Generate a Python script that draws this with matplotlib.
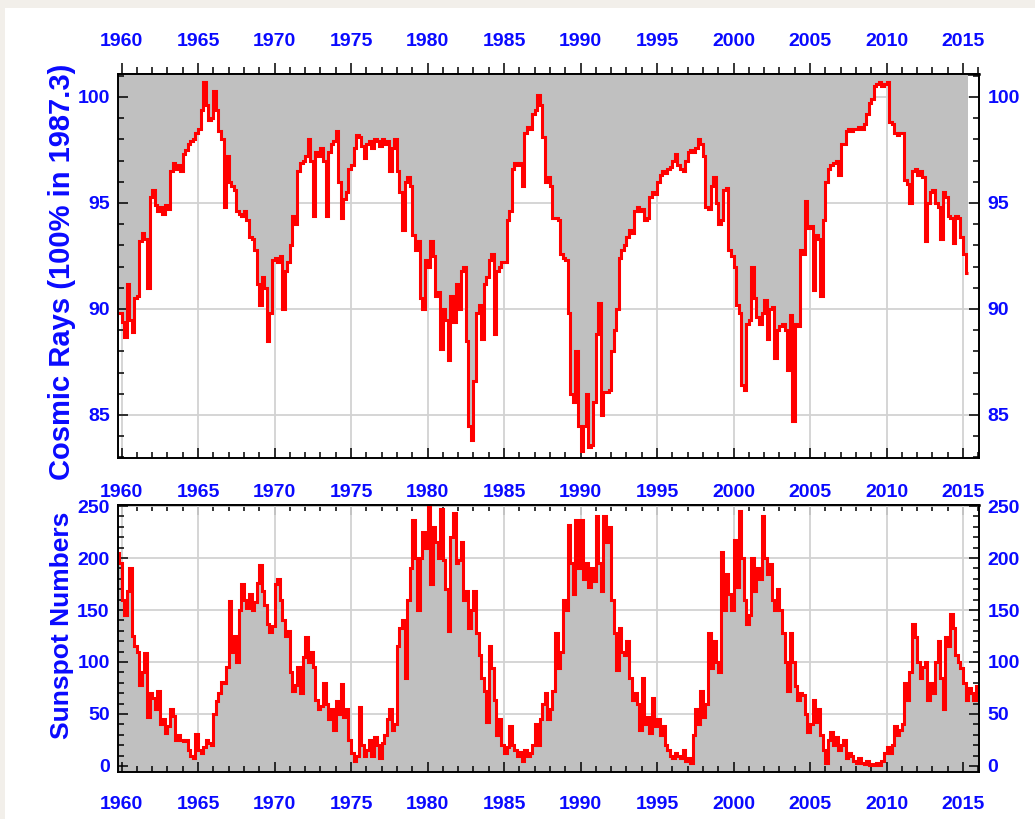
import numpy as np
import matplotlib
matplotlib.use("Agg")
import matplotlib.pyplot as plt
from matplotlib.ticker import MultipleLocator
from matplotlib.patches import Rectangle

# Bi-monthly series (six steps per year), first step starts at START
STEP = 1 / 6
START = 1960 - 2 * STEP

# Cosmic ray intensity, % of the 1987.3 level
cosmic_rays = np.array([
    89.8, 89.8,
    89.4, 88.7, 91.2, 89.5, 88.9, 90.5,      # 1960
    90.6, 93.2, 93.6, 93.3, 91.0, 95.3,      # 1961
    95.6, 94.9, 94.6, 94.8, 94.5, 94.9,      # 1962
    94.7, 96.5, 96.9, 96.6, 96.8, 96.5,      # 1963
    97.3, 97.5, 97.8, 97.9, 98.0, 98.3,      # 1964
    98.5, 99.4, 100.7, 99.6, 98.9, 99.0,     # 1965
    100.3, 99.4, 98.4, 98.0, 94.8, 97.2,     # 1966
    96.0, 95.8, 95.6, 94.6, 94.5, 94.4,      # 1967
    94.6, 94.2, 93.4, 93.3, 92.8, 91.2,      # 1968
    90.2, 91.5, 91.0, 88.5, 89.8, 92.3,      # 1969
    92.4, 92.2, 92.5, 90.0, 91.8, 92.2,      # 1970
    93.0, 94.4, 94.0, 96.5, 96.9, 97.0,      # 1971
    97.2, 98.0, 97.0, 94.4, 97.4, 97.2,      # 1972
    97.6, 97.0, 94.4, 97.4, 97.8, 97.9,      # 1973
    98.4, 96.0, 94.3, 95.2, 95.5, 96.6,      # 1974
    96.8, 97.6, 98.2, 98.1, 97.7, 97.1,      # 1975
    97.8, 97.9, 97.6, 98.0, 97.9, 97.7,      # 1976
    98.0, 97.8, 97.9, 96.5, 97.6, 98.0,      # 1977
    96.5, 95.5, 93.7, 96.0, 96.2, 95.8,      # 1978
    93.5, 92.8, 93.2, 90.5, 90.0, 92.3,      # 1979
    92.0, 93.2, 92.5, 90.6, 90.8, 88.1,      # 1980
    90.0, 89.5, 87.6, 90.6, 89.4, 91.2,      # 1981
    90.0, 91.8, 92.0, 88.5, 84.5, 83.8,      # 1982
    86.6, 89.8, 90.2, 88.6, 91.2, 91.5,      # 1983
    92.3, 92.6, 88.8, 91.8, 92.0, 92.2,      # 1984
    92.2, 94.2, 94.6, 96.6, 96.9, 96.8,      # 1985
    96.9, 95.8, 98.3, 98.6, 98.5, 99.2,      # 1986
    99.4, 100.1, 99.6, 98.1, 96.0, 96.2,     # 1987
    95.8, 94.3, 94.3, 94.2, 92.6, 92.4,      # 1988
    92.3, 89.8, 86.0, 85.6, 88.0, 84.5,      # 1989
    83.3, 84.5, 86.0, 83.5, 83.6, 85.6,      # 1990
    88.8, 90.3, 85.0, 86.1, 86.1, 86.2,      # 1991
    88.0, 89.0, 90.0, 92.4, 92.8, 93.0,      # 1992
    93.4, 93.7, 93.6, 94.6, 94.8, 94.6,      # 1993
    94.7, 94.2, 94.3, 95.3, 95.5, 95.4,      # 1994
    96.0, 96.3, 96.5, 96.4, 96.6, 96.7,      # 1995
    97.0, 97.3, 96.8, 96.6, 96.5, 97.0,      # 1996
    97.4, 97.5, 97.4, 97.6, 98.0, 97.8,      # 1997
    97.2, 94.8, 94.7, 95.8, 96.2, 95.0,      # 1998
    94.0, 94.2, 95.6, 95.7, 92.8, 92.5,      # 1999
    92.0, 90.2, 89.8, 86.4, 86.2, 89.3,      # 2000
    89.5, 92.0, 90.5, 89.6, 89.3, 89.8,      # 2001
    90.4, 88.6, 90.0, 90.1, 87.7, 89.0,      # 2002
    89.2, 89.3, 89.0, 87.1, 89.7, 84.7,      # 2003
    89.3, 89.2, 92.8, 92.6, 95.1, 93.8,      # 2004
    93.9, 90.9, 93.5, 93.3, 90.6, 94.2,      # 2005
    96.0, 96.6, 96.8, 96.9, 97.0, 96.3,      # 2006
    97.8, 97.8, 98.4, 98.5, 98.4, 98.5,      # 2007
    98.5, 98.6, 98.5, 98.7, 99.2, 99.7,      # 2008
    99.9, 100.5, 100.6, 100.7, 100.5, 100.6, # 2009
    100.7, 98.8, 98.7, 98.3, 98.2, 98.3,     # 2010
    98.3, 96.1, 95.9, 95.0, 96.5, 96.6,      # 2011
    96.3, 96.5, 96.2, 93.2, 95.0, 95.5,      # 2012
    95.6, 95.0, 94.8, 93.3, 95.5, 95.3,      # 2013
    94.4, 94.3, 93.1, 94.4, 94.3, 93.4,      # 2014
    92.6, 91.7,                              # 2015
])

# Sunspot numbers
sunspots = np.array([
    205, 195,
    160, 145, 168, 190, 125, 115,    # 1960
    110, 78, 90, 109, 47, 70,        # 1961
    65, 55, 72, 40, 45, 32,          # 1962
    38, 55, 48, 25, 30, 25,          # 1963
    24, 25, 15, 10, 8, 31,           # 1964
    15, 12, 18, 25, 22, 20,          # 1965
    50, 62, 70, 81, 80, 95,          # 1966
    159, 110, 125, 100, 150, 175,    # 1967
    160, 152, 165, 150, 158, 176,    # 1968
    193, 168, 155, 137, 129, 135,    # 1969
    175, 180, 160, 140, 125, 130,    # 1970
    90, 72, 78, 95, 70, 105,         # 1971
    124, 100, 110, 95, 63, 55,       # 1972
    58, 80, 60, 45, 55, 35,          # 1973
    62, 50, 79, 47, 55, 25,          # 1974
    12, 5, 10, 57, 20, 10,           # 1975
    15, 25, 10, 28, 20, 8,           # 1976
    22, 30, 45, 55, 35, 40,          # 1977
    115, 133, 140, 85, 160, 190,     # 1978
    237, 200, 150, 200, 225, 210,    # 1979
    250, 175, 230, 215, 200, 247,    # 1980
    198, 170, 130, 220, 243, 195,    # 1981
    198, 215, 160, 168, 133, 150,    # 1982
    168, 128, 107, 85, 72, 42,       # 1983
    115, 94, 63, 30, 45, 20,         # 1984
    12, 18, 38, 20, 15, 10,          # 1985
    13, 5, 15, 10, 12, 20,           # 1986
    40, 20, 45, 60, 70, 45,          # 1987
    55, 72, 128, 94, 110, 160,       # 1988
    150, 232, 195, 165, 237, 190,    # 1989
    237, 180, 195, 172, 190, 178,    # 1990
    240, 195, 168, 240, 215, 230,    # 1991
    160, 128, 92, 133, 110, 107,     # 1992
    120, 85, 63, 70, 60, 35,         # 1993
    85, 40, 47, 32, 65, 38,          # 1994
    45, 30, 38, 20, 15, 10,          # 1995
    8, 12, 10, 8, 15, 5,             # 1996
    8, 3, 30, 55, 40, 72,            # 1997
    47, 60, 128, 94, 120, 100,       # 1998
    90, 206, 150, 185, 165, 150,     # 1999
    217, 172, 245, 200, 160, 137,    # 2000
    145, 200, 168, 190, 180, 240,    # 2001
    200, 185, 194, 160, 150, 170,    # 2002
    150, 128, 100, 72, 128, 100,     # 2003
    77, 63, 70, 68, 50, 33,          # 2004
    40, 63, 42, 55, 30, 15,          # 2005
    3, 25, 33, 20, 28, 15,           # 2006
    20, 25, 8, 12, 10, 5,            # 2007
    3, 8, 3, 2, 5, 1,                # 2008
    2, 1, 3, 0.5, 5, 12,             # 2009
    18, 12, 20, 38, 30, 35,          # 2010
    40, 80, 63, 90, 137, 124,        # 2011
    100, 85, 95, 100, 63, 80,        # 2012
    70, 100, 120, 85, 55, 124,       # 2013
    115, 146, 133, 107, 100, 94,     # 2014
    80, 63, 75, 70, 63, 77,          # 2015
])

year_ticks = np.arange(1960, 2016, 5)
cr_ticks = [85, 90, 95, 100]
ss_ticks = [0, 50, 100, 150, 200, 250]

XLIM = (1959.77, 2016.05)
CR_LIM = (82.97, 101.08)
SS_LIM = (-5.8, 251.0)

BLUE = "#0a0aff"
RED = "#ff0000"
FILL = "#c0c0c0"
GRID = "#d2d2d2"

plt.rcParams["font.family"] = ["Liberation Sans Narrow", "Liberation Sans", "DejaVu Sans"]
plt.rcParams["font.weight"] = "bold"
plt.rcParams["axes.linewidth"] = 1.4

fig = plt.figure(figsize=(10.35, 8.19), dpi=100, facecolor="#f2efea")
fig.patches.append(Rectangle((5 / 1035, 0), 1, 1 - 8 / 819, transform=fig.transFigure,
                             facecolor="white", edgecolor="none", zorder=-1))

ax1 = fig.add_axes([0.114, 0.4408, 0.832, 0.4688])
ax2 = fig.add_axes([0.114, 0.0574, 0.832, 0.326])


def style_axes(ax, ylim, yticks, yminor):
    ax.set_xlim(*XLIM)
    ax.set_ylim(*ylim)
    for yr in year_ticks:
        ax.axvline(yr, color=GRID, lw=1.3, zorder=0.5)
    for yv in yticks:
        ax.axhline(yv, color=GRID, lw=1.3, zorder=0.5)
    ax.xaxis.set_major_locator(MultipleLocator(5))
    ax.xaxis.set_minor_locator(MultipleLocator(1))
    ax.set_yticks(yticks)
    ax.yaxis.set_minor_locator(MultipleLocator(yminor))
    ax.tick_params(axis="y", which="both", direction="in", left=True, right=True,
                   labelleft=True, labelright=True, labelcolor=BLUE, labelsize=14,
                   width=1.1, pad=6)
    ax.tick_params(axis="y", which="major", length=7)
    ax.tick_params(axis="y", which="minor", length=4.5)
    ax.tick_params(axis="x", which="both", direction="in", bottom=True, top=False,
                   labelbottom=False, width=1.1)
    ax.tick_params(axis="x", which="major", length=7)
    ax.tick_params(axis="x", which="minor", length=4.5)


def add_top_labels(ax, direction, pad):
    sec = ax.secondary_xaxis("top")
    sec.set_xticks(year_ticks)
    sec.xaxis.set_minor_locator(MultipleLocator(1))
    sec.tick_params(axis="x", which="both", direction=direction, labelcolor=BLUE,
                    labelsize=14, width=1.1, pad=pad)
    sec.tick_params(axis="x", which="major", length=8 if direction == "out" else 7)
    sec.tick_params(axis="x", which="minor", length=5 if direction == "out" else 4.5)
    sec.spines["top"].set_linewidth(1.8)
    return sec


# Cosmic rays: grey above the curve
style_axes(ax1, CR_LIM, cr_ticks, 1)
edges_cr = START + STEP * np.arange(len(cosmic_rays) + 1)
ax1.stairs(cosmic_rays, edges_cr, baseline=CR_LIM[1], fill=True, color=FILL, lw=0, zorder=1)
ax1.stairs(cosmic_rays, edges_cr, baseline=None, color=RED, lw=2.2, zorder=2)
add_top_labels(ax1, "out", 9)

# Sunspot numbers: grey below the curve
style_axes(ax2, SS_LIM, ss_ticks, 10)
edges_ss = START + STEP * np.arange(len(sunspots) + 1)
ax2.stairs(sunspots, edges_ss, baseline=SS_LIM[0], fill=True, color=FILL, lw=0, zorder=1)
ax2.stairs(sunspots, edges_ss, baseline=None, color=RED, lw=2.2, zorder=2)
ax2.tick_params(axis="x", which="both", labelbottom=True, labelcolor=BLUE,
                labelsize=14, pad=17)
add_top_labels(ax2, "in", 3)

label_font = ["Liberation Sans", "DejaVu Sans"]
fig.text(0.060, 0.668, "Cosmic Rays (100% in 1987.3)", rotation=90, ha="center",
         va="center", color=BLUE, fontsize=21, fontweight="bold", family=label_font)
fig.text(0.060, 0.237, "Sunspot Numbers", rotation=90, ha="center", va="center",
         color=BLUE, fontsize=19, fontweight="bold", family=label_font)

fig.savefig("out.png", dpi=100, facecolor=fig.get_facecolor())
